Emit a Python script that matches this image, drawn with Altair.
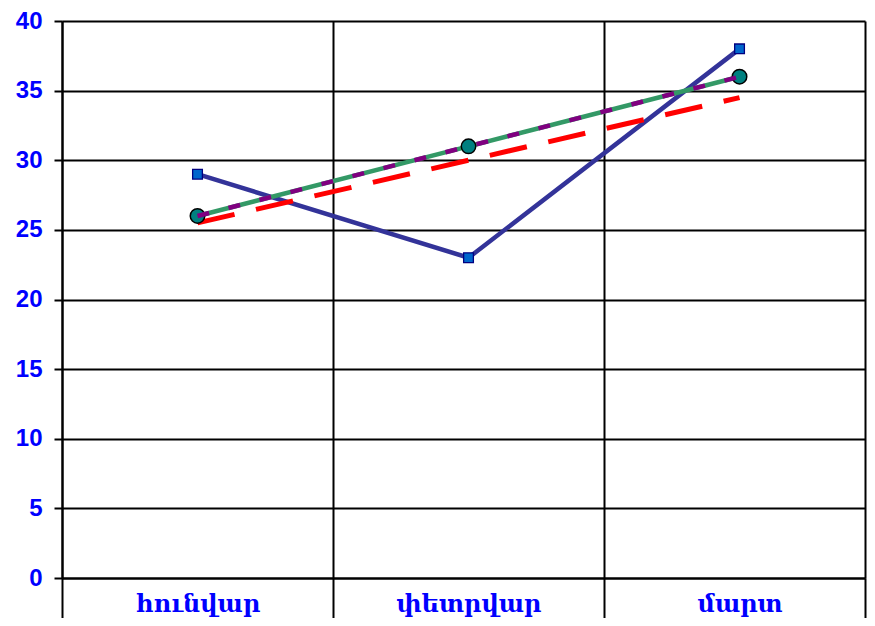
import json
import altair as alt
import pandas as pd

# ---- data ----
months = ["հունվար", "փետրվար", "մարտ"]
series_blue = [29, 23, 38]        # blue line, square markers
series_green = [26, 31, 36]       # green line, circle markers
series_purple = [26, 31, 36]      # purple dashed line
trend_red = [25.5, 30, 34.5]      # red dashed trend line
y_ticks = [0, 5, 10, 15, 20, 25, 30, 35, 40]

X_MAX = 2.963                      # right edge of the plot frame (in category units)
x_ticks = [0, 0.5, 1, 1.5, 2, 2.5, X_MAX]
pos = [i + 0.5 for i in range(len(months))]


def frame(vals):
    return pd.DataFrame({"pos": pos, "month": months, "value": vals})


W, H = 803, 557
TOP = 13
BOTTOM = 40

xscale = alt.Scale(domain=[0, X_MAX], nice=False, zero=False)
yscale = alt.Scale(domain=[0, 40], nice=False)

month_js = json.dumps(months, ensure_ascii=False)
is_half = "abs(datum.value - floor(datum.value) - 0.5) < 0.01"

x_axis = alt.Axis(
    values=x_ticks,
    title=None,
    grid=True,
    gridColor="black",
    gridWidth=2,
    gridOpacity={"condition": {"test": is_half, "value": 0}, "value": 1},
    ticks=True,
    tickSize=BOTTOM,
    tickColor="black",
    tickWidth=2,
    tickOpacity={"condition": {"test": is_half, "value": 0}, "value": 1},
    domain=True,
    domainColor="black",
    domainWidth=2,
    labelExpr=f"({is_half}) ? {month_js}[floor(datum.value)] : ''",
    labelFont="DejaVu Serif",
    labelFontSize=24,
    labelFontWeight="bold",
    labelColor="#0000FF",
    labelPadding=33 - BOTTOM,
    labelBaseline="alphabetic",
    labelFlush=False,
    labelOverlap=False,
    labelBound=False,
)

y_axis = alt.Axis(
    values=y_ticks,
    title=None,
    grid=True,
    gridColor="black",
    gridWidth=2,
    ticks=True,
    tickSize=8,
    tickColor="black",
    tickWidth=2,
    domain=True,
    domainColor="black",
    domainWidth=2,
    labelFont="Liberation Sans",
    labelFontSize=24,
    labelFontWeight="bold",
    labelColor="#0000FF",
    labelPadding=12,
)

blue_df = frame(series_blue)
green_df = frame(series_green)
purple_df = frame(series_purple)
red_df = frame(trend_red)

blue_line = alt.Chart(blue_df).mark_line(color="#333399", strokeWidth=4.5).encode(
    x=alt.X("pos:Q", scale=xscale, axis=x_axis),
    y=alt.Y("value:Q", scale=yscale, axis=y_axis),
)

enc = dict(
    x=alt.X("pos:Q", scale=xscale),
    y=alt.Y("value:Q", scale=yscale),
)

red_line = alt.Chart(red_df).mark_line(
    color="#FF0000", strokeWidth=5, strokeDash=[38, 22]
).encode(**enc)

green_line = alt.Chart(green_df).mark_line(color="#339966", strokeWidth=4.5).encode(**enc)

circles = alt.Chart(green_df).mark_point(
    shape="circle", filled=True, fill="#008080", stroke="black",
    strokeWidth=1.5, size=210, opacity=1,
).encode(**enc)

purple_line = alt.Chart(purple_df).mark_line(
    color="#800080", strokeWidth=4.5, strokeDash=[12, 20]
).encode(**enc)

squares = alt.Chart(blue_df).mark_square(
    filled=True, fill="#0066CC", stroke="#000080", strokeWidth=1.3, size=95, opacity=1,
).encode(**enc)

chart = alt.layer(
    blue_line, red_line, green_line, circles, purple_line, squares
).properties(
    width=W,
    height=H,
    autosize=alt.AutoSizeParams(type="none"),
    padding={"left": 54, "top": TOP, "right": 2, "bottom": BOTTOM},
    background="white",
).configure_view(stroke=None)

chart.save("out.html", embed_options={"renderer": "svg", "actions": False})
